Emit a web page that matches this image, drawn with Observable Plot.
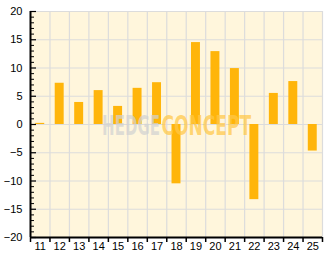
<!DOCTYPE html>
<html><head><meta charset="utf-8">
<script src="https://cdn.jsdelivr.net/npm/d3@7"></script>
<script src="https://cdn.jsdelivr.net/npm/@observablehq/plot@0.6"></script>
<style>body{margin:0;background:#fff}</style>
</head><body><div id="chart"></div>
<script>
const days = [11, 12, 13, 14, 15, 16, 17, 18, 19, 20, 21, 22, 23, 24, 25];
const values = [0.2, 7.3, 3.9, 6.0, 3.2, 6.4, 7.4, -10.5, 14.5, 12.9, 9.9, -13.3, 5.5, 7.6, -4.7];
const yMajorTicks = [-20, -15, -10, -5, 0, 5, 10, 15, 20];
const yMinorTicks = [-19,-18,-17,-16,-14,-13,-12,-11,-9,-8,-7,-6,-4,-3,-2,-1,1,2,3,4,6,7,8,9,11,12,13,14,16,17,18,19];
const watermarkParts = ["HEDGE", "CONCEPT"];

const data = days.map((d, i) => ({day: d, value: values[i]}));
const bounds = [days[0] - 0.5, ...days.map(d => d + 0.5)];
const halfBar = 0.23;
const plotW = 332 - 30 - 10;
const font = "'Liberation Sans', Arial, sans-serif";
const wmFont = "'Liberation Sans Narrow', 'DejaVu Sans Condensed', 'Liberation Sans', sans-serif";

const chart = Plot.plot({
  width: 332,
  height: 269,
  marginLeft: 30,
  marginRight: 10,
  marginTop: 11,
  marginBottom: 32,
  style: {background: "transparent", fontFamily: font, fontSize: "11px", color: "#000"},
  x: {type: "linear", domain: [bounds[0], bounds[bounds.length - 1]]},
  y: {domain: [-20, 20]},
  marks: [
    Plot.frame({fill: "#fff6dc", stroke: null}),
    Plot.ruleY(yMajorTicks.filter(v => v > -20), {y: d => d, stroke: "#dcdcdc", strokeWidth: 1.2}),
    Plot.ruleX(bounds.slice(1), {x: d => d, stroke: "#dcdcdc", strokeWidth: 1.2}),
    Plot.rectY(data, {x1: d => d.day - halfBar, x2: d => d.day + halfBar, y1: 0, y2: "value", fill: "#ffb50a"}),
    Plot.text([watermarkParts[0]], {text: d => d, frameAnchor: "middle", textAnchor: "end", dx: -16.5, dy: 1.5, fontSize: 27, fontWeight: "bold", fontFamily: wmFont, fill: "#d2d2d2", fillOpacity: 0.72, className: "wm-hedge"}),
    Plot.text([watermarkParts[1]], {text: d => d, frameAnchor: "middle", textAnchor: "start", dx: -15, dy: 1.5, fontSize: 27, fontWeight: "bold", fontFamily: wmFont, fill: "#ffc848", fillOpacity: 0.72, className: "wm-concept"}),
    Plot.ruleX([bounds[0]], {x: d => d, stroke: "#000", strokeWidth: 2}),
    Plot.ruleY([-20], {y: d => d, stroke: "#000", strokeWidth: 2}),
    Plot.tickY(yMajorTicks, {y: d => d, stroke: "#000", strokeWidth: 1.2, insetRight: plotW - 6}),
    Plot.tickY(yMinorTicks, {y: d => d, stroke: "#000", strokeWidth: 1, insetRight: plotW - 4}),
    Plot.axisY({ticks: yMajorTicks, tickSize: 0, tickPadding: 8, label: null}),
    Plot.axisX({ticks: bounds, tickSize: 5, tickFormat: () => "", label: null, strokeWidth: 1.5}),
    Plot.axisX({ticks: days, tickSize: 0, tickPadding: 5, tickFormat: d => String(d), label: null})
  ]
});
document.getElementById("chart").appendChild(chart);
function squeeze(sel, targetWidth, anchorEnd) {
  d3.select(chart).selectAll(sel).each(function() {
    const bb = this.getBBox();
    const sx = targetWidth / bb.width;
    const ax = anchorEnd ? bb.x + bb.width : bb.x;
    const t = this.getAttribute("transform") || "";
    this.setAttribute("transform", `${t} translate(${ax},0) scale(${sx},1) translate(${-ax},0)`);
  });
}
squeeze(".wm-hedge text", 58, true);
squeeze(".wm-concept text", 90, false);
</script>
</body></html>
